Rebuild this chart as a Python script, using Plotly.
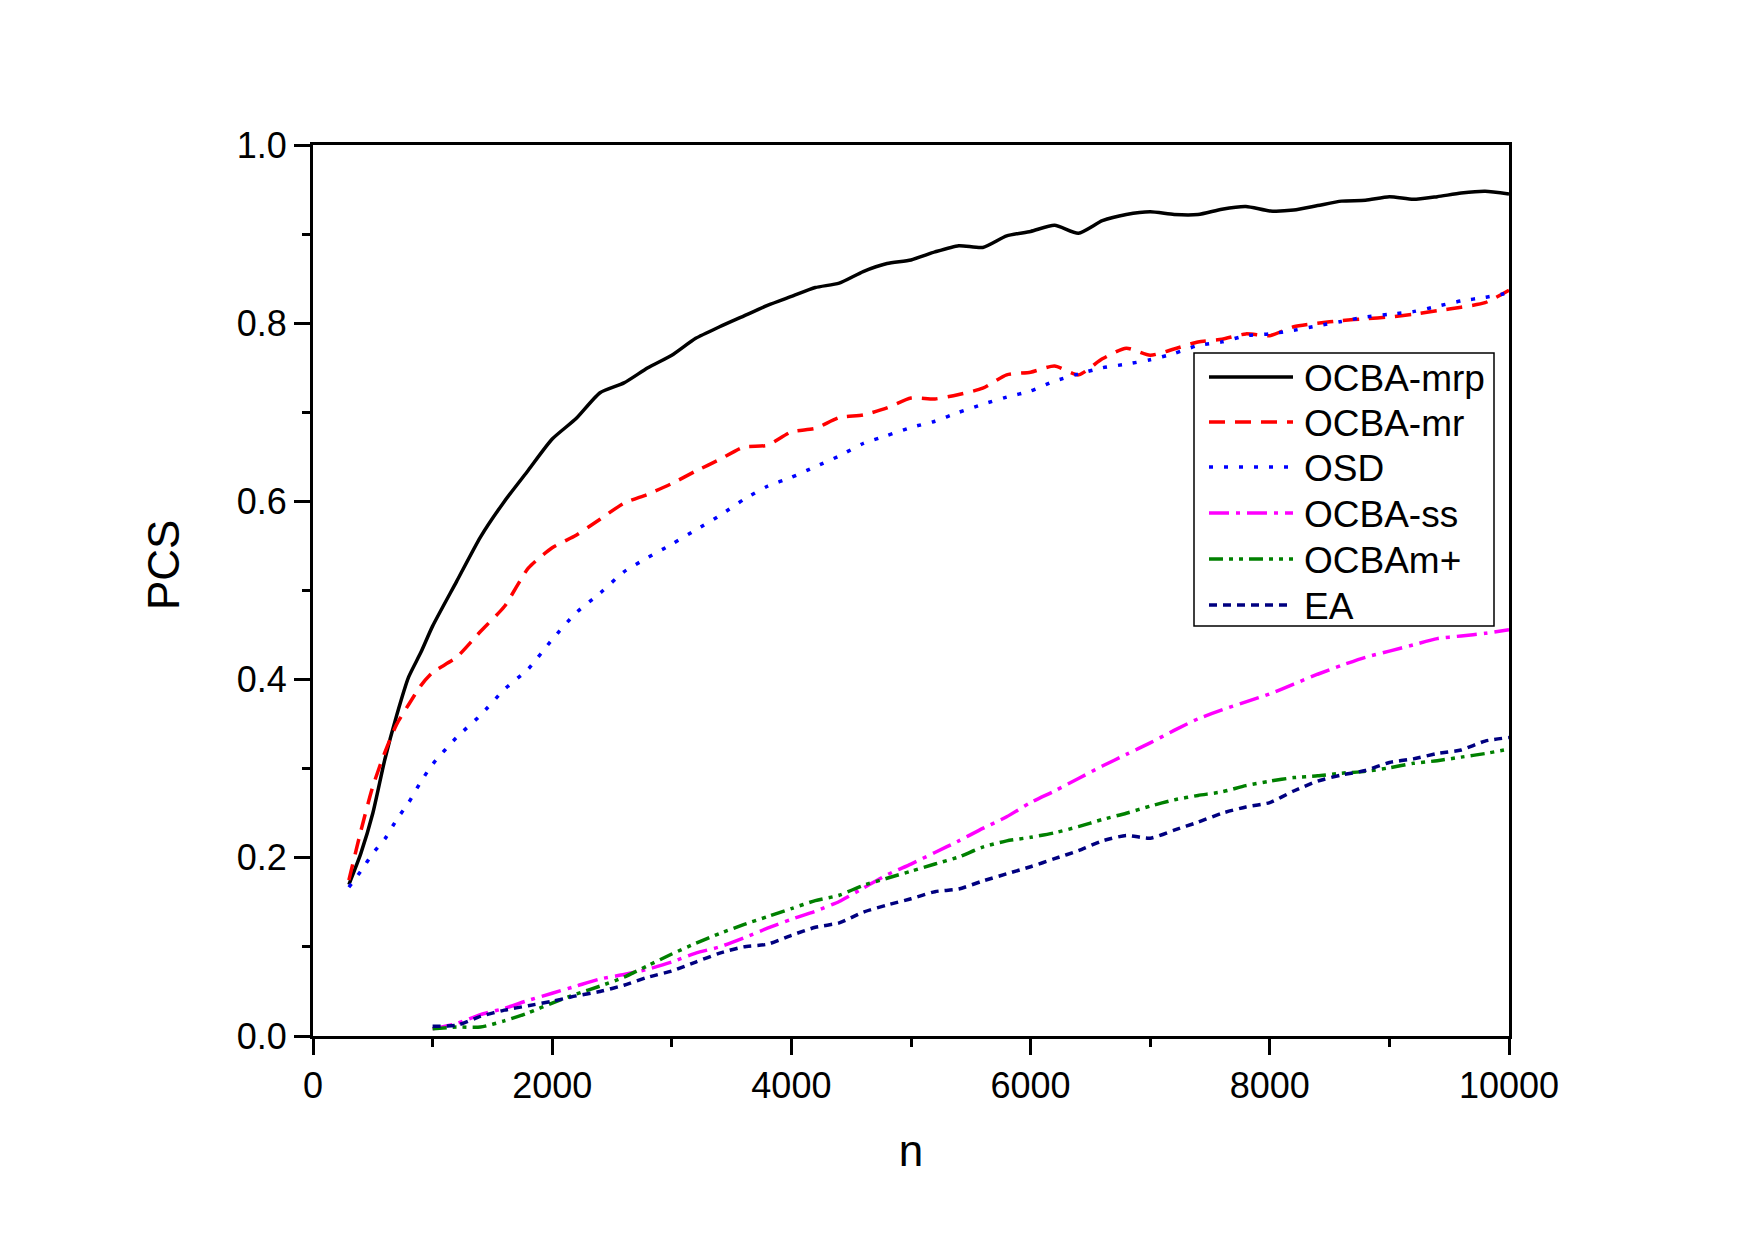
import plotly.graph_objects as go

n_upper = [300, 400, 500, 600, 700, 800, 900, 1000, 1200, 1400, 1600, 1800, 2000,
           2200, 2400, 2600, 2800, 3000, 3200, 3400, 3600, 3800, 4000, 4200, 4400,
           4600, 4800, 5000, 5200, 5400, 5600, 5800, 6000, 6200, 6400, 6600, 6800,
           7000, 7200, 7400, 7600, 7800, 8000, 8200, 8400, 8600, 8800, 9000, 9200,
           9400, 9600, 9800, 10000]
n_lower = [1000, 1200, 1400, 1600, 1800, 2000, 2200, 2400, 2600, 2800, 3000, 3200,
           3400, 3600, 3800, 4000, 4200, 4400, 4600, 4800, 5000, 5200, 5400, 5600,
           5800, 6000, 6200, 6400, 6600, 6800, 7000, 7200, 7400, 7600, 7800, 8000,
           8200, 8400, 8600, 8800, 9000, 9200, 9400, 9600, 9800, 10000]

ocba_mrp = [0.17, 0.205, 0.25, 0.31, 0.36, 0.403, 0.43, 0.46, 0.51, 0.56, 0.60, 0.635,
            0.67, 0.693, 0.722, 0.733, 0.75, 0.764, 0.783, 0.796, 0.808, 0.82, 0.83,
            0.84, 0.845, 0.858, 0.867, 0.871, 0.88, 0.887, 0.885, 0.898, 0.903, 0.91,
            0.901, 0.915, 0.922, 0.925, 0.922, 0.922, 0.928, 0.931, 0.926, 0.927,
            0.932, 0.937, 0.938, 0.942, 0.939, 0.942, 0.946, 0.948, 0.945]
ocba_mr = [0.175, 0.23, 0.28, 0.318, 0.35, 0.372, 0.393, 0.408, 0.425, 0.454, 0.482,
           0.525, 0.548, 0.562, 0.58, 0.598, 0.608, 0.62, 0.634, 0.647, 0.661, 0.663,
           0.678, 0.682, 0.694, 0.697, 0.705, 0.716, 0.715, 0.72, 0.727, 0.742, 0.745,
           0.752, 0.742, 0.76, 0.772, 0.764, 0.771, 0.779, 0.782, 0.788, 0.786, 0.796,
           0.8, 0.803, 0.805, 0.807, 0.81, 0.814, 0.818, 0.823, 0.837]
osd = [0.167, 0.185, 0.205, 0.221, 0.243, 0.262, 0.285, 0.305, 0.335, 0.36, 0.389,
       0.412, 0.445, 0.475, 0.497, 0.521, 0.537, 0.552, 0.568, 0.584, 0.602, 0.617,
       0.627, 0.639, 0.651, 0.665, 0.674, 0.683, 0.69, 0.70, 0.709, 0.717, 0.724,
       0.735, 0.743, 0.75, 0.754, 0.759, 0.766, 0.775, 0.779, 0.786, 0.788, 0.792,
       0.797, 0.802, 0.807, 0.81, 0.813, 0.819, 0.825, 0.829, 0.834]
ocba_ss = [0.008, 0.014, 0.024, 0.031, 0.04, 0.048, 0.056, 0.064, 0.069, 0.075, 0.083,
           0.093, 0.10, 0.11, 0.121, 0.131, 0.14, 0.151, 0.166, 0.181, 0.193, 0.206,
           0.219, 0.233, 0.246, 0.262, 0.275, 0.289, 0.303, 0.316, 0.329, 0.343, 0.356,
           0.366, 0.375, 0.384, 0.395, 0.406, 0.416, 0.425, 0.432, 0.439, 0.446, 0.449,
           0.452, 0.456]
ocbam_plus = [0.008, 0.01, 0.01, 0.017, 0.026, 0.037, 0.047, 0.056, 0.066, 0.079, 0.092,
              0.104, 0.115, 0.125, 0.134, 0.143, 0.152, 0.158, 0.169, 0.177, 0.185,
              0.193, 0.201, 0.212, 0.219, 0.223, 0.228, 0.235, 0.243, 0.25, 0.258,
              0.265, 0.27, 0.274, 0.281, 0.286, 0.29, 0.292, 0.295, 0.297, 0.301,
              0.306, 0.309, 0.313, 0.317, 0.322]
ea = [0.011, 0.012, 0.022, 0.029, 0.034, 0.039, 0.045, 0.05, 0.057, 0.066, 0.073, 0.083,
      0.093, 0.10, 0.103, 0.113, 0.122, 0.127, 0.139, 0.147, 0.154, 0.162, 0.165, 0.174,
      0.182, 0.19, 0.199, 0.208, 0.219, 0.225, 0.222, 0.231, 0.24, 0.25, 0.257, 0.262,
      0.275, 0.286, 0.293, 0.298, 0.307, 0.311, 0.317, 0.321, 0.331, 0.335]

x_tickvals = [0, 2000, 4000, 6000, 8000, 10000]
x_ticktext = ["0", "2000", "4000", "6000", "8000", "10000"]
y_tickvals = [0, 0.2, 0.4, 0.6, 0.8, 1.0]
y_ticktext = ["0.0", "0.2", "0.4", "0.6", "0.8", "1.0"]

series = [
    ("OCBA-mrp", n_upper, ocba_mrp, "#000000", "solid"),
    ("OCBA-mr", n_upper, ocba_mr, "#ff0000", "16px,10px"),
    ("OSD", n_upper, osd, "#0000ff", "4px,11px"),
    ("OCBA-ss", n_lower, ocba_ss, "#ff00ff", "20px,7px,4px,7px"),
    ("OCBAm+", n_lower, ocbam_plus, "#008000", "14px,6px,4px,6px,4px,6px"),
    ("EA", n_lower, ea, "#000080", "8px,6px"),
]

FONT = "Liberation Sans, Arial, sans-serif"
W, H = 1755, 1242
L, R, T, B = 313, 1509, 145, 1036   # plot area in pixels


def px(xpix):
    return (xpix - L) / (R - L)


def py(ypix):
    return (B - ypix) / (B - T)


fig = go.Figure()
for name, xs, ys, color, dash in series:
    fig.add_trace(go.Scatter(x=xs, y=ys, name=name, mode="lines", showlegend=False,
                             line=dict(color=color, width=3.5, dash=dash, shape="spline",
                                       smoothing=0.6)))

axis_common = dict(
    showline=True, linecolor="black", linewidth=3, mirror=True,
    ticks="outside", ticklen=16, tickwidth=3, tickcolor="black",
    showgrid=False, zeroline=False,
    tickfont=dict(family=FONT, size=36, color="black"),
)

fig.update_xaxes(range=[0, 10000], tickvals=x_tickvals, ticktext=x_ticktext,
                 minor=dict(ticks="outside", ticklen=8, tickwidth=3, tickcolor="black",
                            dtick=1000, showgrid=False),
                 title=dict(text="n", font=dict(family=FONT, size=44, color="black"),
                            standoff=30),
                 **axis_common)
fig.update_yaxes(range=[0, 1.0], tickvals=y_tickvals, ticktext=y_ticktext,
                 minor=dict(ticks="outside", ticklen=8, tickwidth=3, tickcolor="black",
                            dtick=0.1, showgrid=False),
                 **axis_common)

shapes = []
annotations = []

# y-axis title (placed like the original, slightly above the axis centre)
annotations.append(dict(text="PCS", x=px(163), y=py(565), xref="paper", yref="paper",
                        xanchor="center", yanchor="middle", textangle=-90, showarrow=False,
                        font=dict(family=FONT, size=44, color="black")))

# legend box
shapes.append(dict(type="rect", xref="paper", yref="paper",
                   x0=px(1194), x1=px(1494), y0=py(626), y1=py(353),
                   line=dict(color="black", width=1.5), fillcolor="white", layer="above"))
row_y = [377, 422, 467, 513, 559, 605]
for (name, xs, ys, color, dash), yy in zip(series, row_y):
    shapes.append(dict(type="line", xref="paper", yref="paper",
                       x0=px(1209), x1=px(1293), y0=py(yy), y1=py(yy),
                       line=dict(color=color, width=3.5, dash=dash), layer="above"))
    annotations.append(dict(text=name, x=px(1302), y=py(yy + 1), xref="paper",
                            yref="paper", xanchor="left", yanchor="middle",
                            showarrow=False,
                            font=dict(family=FONT, size=37, color="black")))

fig.update_layout(
    width=W, height=H,
    margin=dict(l=L, r=W - R, t=T, b=H - B),
    paper_bgcolor="white", plot_bgcolor="white",
    font=dict(family=FONT, color="black"),
    showlegend=False,
    shapes=shapes,
    annotations=annotations,
)

fig.write_html("out.html")
